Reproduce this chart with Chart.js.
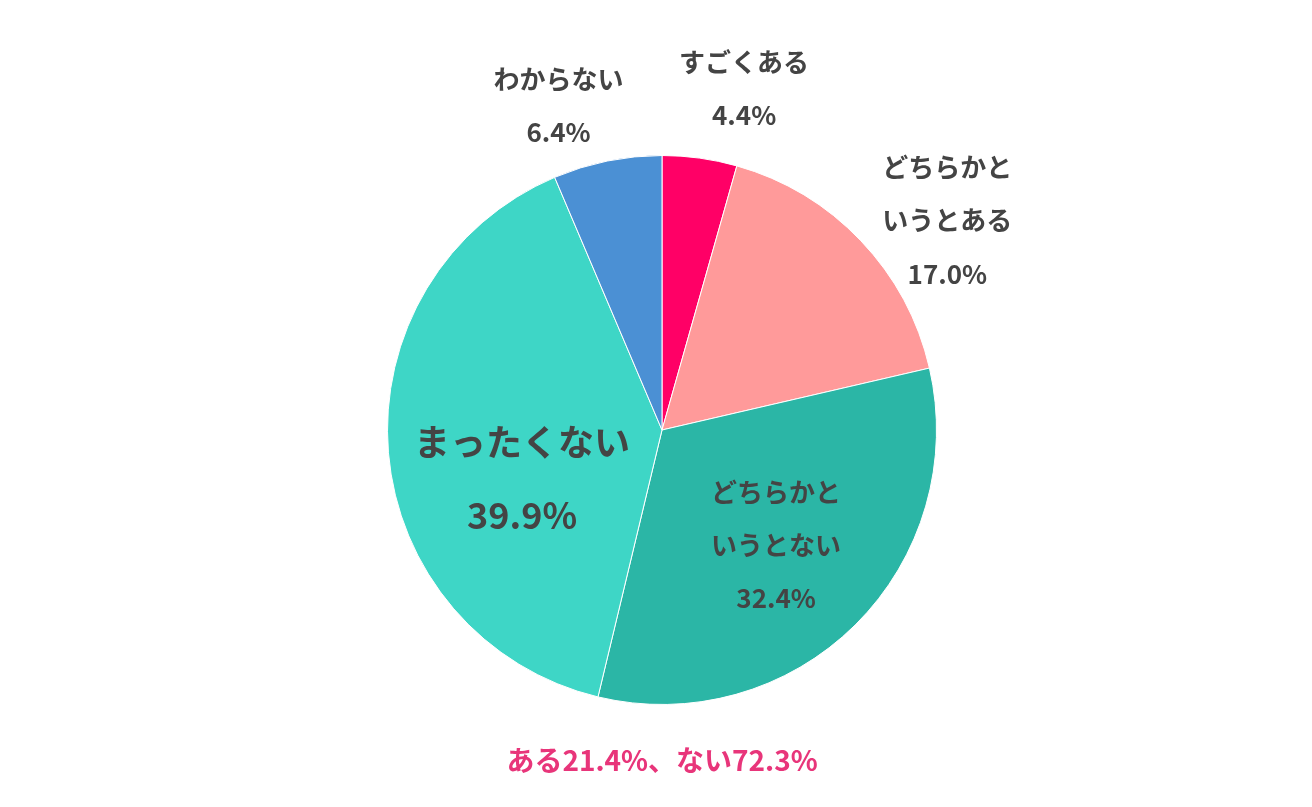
<!DOCTYPE html>
<html><head><meta charset="utf-8">
<script src="https://cdn.jsdelivr.net/npm/chart.js@4"></script>
<style>html,body{margin:0;padding:0;background:#fff}#w{position:relative;width:1312px;height:807px}</style>
</head><body><div id="w"><canvas id="c"></canvas></div>
<script>
const categories = ["すごくある","どちらかというとある","どちらかというとない","まったくない","わからない"];
const labelLines = [["すごくある"],["どちらかと","いうとある"],["どちらかと","いうとない"],["まったくない"],["わからない"]];
const values = [4.4, 17.0, 32.4, 39.9, 6.4];
const colors = ["#FF0066","#FF9A9A","#2BB6A6","#3ED6C6","#4B90D4"];
const footerText = "ある21.4%、ない72.3%";
// label placement: [radius factor, angle offset deg, font size]
const place = [[1.28,5.6,26],[1.29,7.3,26],[0.59,0,26],[0.54,-14.5,36],[1.24,-6.2,26]];

const labelPlugin = {
  id:'lbl',
  afterDraw(chart){
    const ctx = chart.ctx;
    const meta = chart.getDatasetMeta(0);
    meta.data.forEach((arc,i)=>{
      const mid = (arc.startAngle+arc.endAngle)/2 + place[i][1]*Math.PI/180;
      const r = arc.outerRadius*place[i][0];
      const x = arc.x + r*Math.cos(mid), y = arc.y + r*Math.sin(mid);
      const fs = place[i][2];
      const lines = [...labelLines[i], values[i].toFixed(1)+"%"];
      const lh = fs*2.05;
      ctx.save();
      ctx.fillStyle="#444";
      ctx.font = `bold ${fs}px "Noto Sans CJK JP"`;
      ctx.textAlign="center"; ctx.textBaseline="middle";
      lines.forEach((t,k)=>ctx.fillText(t,x,y+(k-(lines.length-1)/2)*lh));
      ctx.restore();
    });
    ctx.save();
    ctx.fillStyle="#E8357A";
    ctx.font='bold 28px "Noto Sans CJK JP"';
    ctx.textAlign="center"; ctx.textBaseline="middle";
    ctx.fillText(footerText, meta.data[0].x, 760);
    ctx.restore();
  }
};
new Chart(document.getElementById('c'),{
  type:'pie',
  data:{labels:categories,datasets:[{data:values,backgroundColor:colors,borderColor:'#fff',borderWidth:1}]},
  options:{responsive:true,maintainAspectRatio:false,animation:false,
    layout:{padding:{top:155,bottom:102,left:387,right:375}},
    plugins:{legend:{display:false},tooltip:{enabled:false}}},
  plugins:[labelPlugin]
});
</script></body></html>
